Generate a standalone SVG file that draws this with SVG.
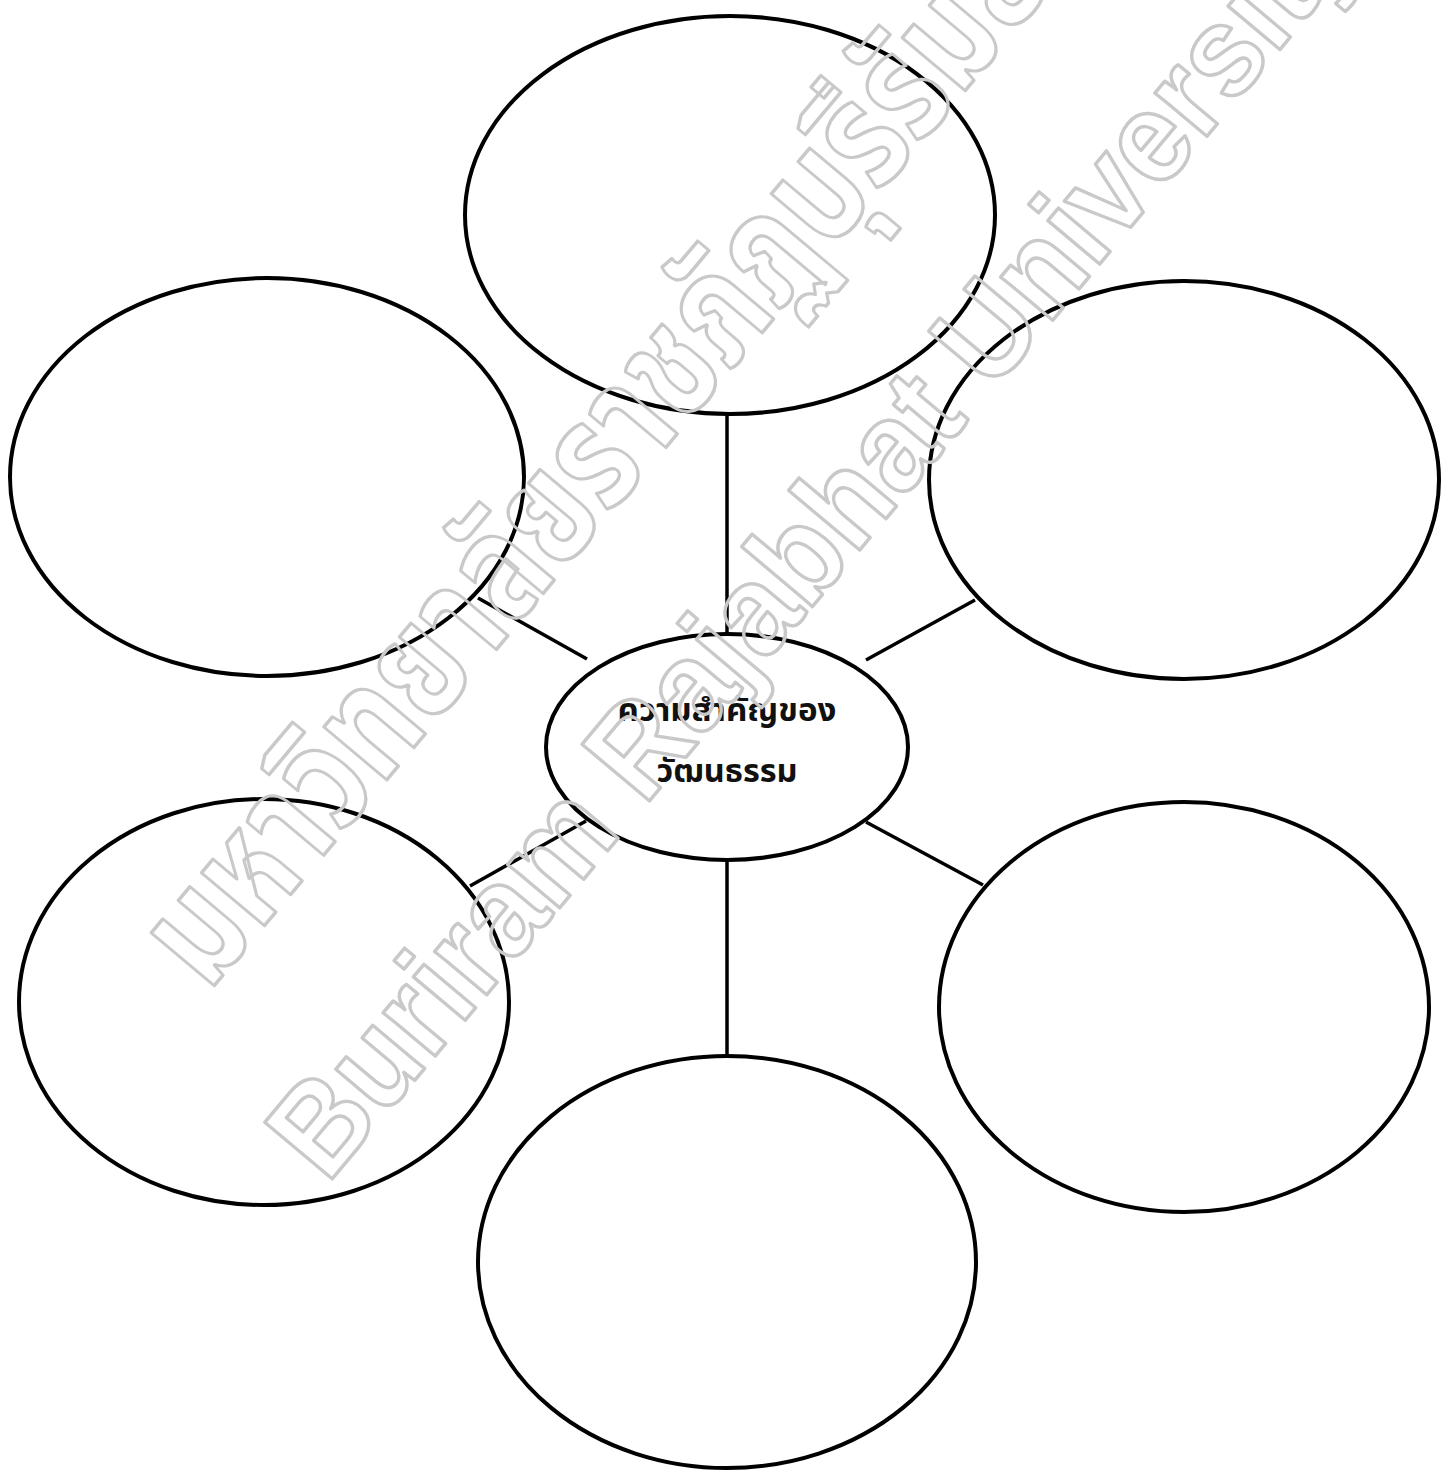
<svg xmlns="http://www.w3.org/2000/svg" width="1454" height="1473" viewBox="0 0 1454 1473">
  <style>
    .node { fill: #ffffff; stroke: #000000; stroke-width: 4; }
    .conn { stroke: #000000; stroke-width: 3.5; fill: none; }
    .label { font-family: "Noto Sans Thai", "Noto Sans", "DejaVu Sans", sans-serif; font-weight: bold; font-size: 31px; fill: #111111; text-anchor: middle; }
    .wm { fill: none; stroke: #c9c9c9; stroke-width: 3.5; stroke-linejoin: round; font-weight: bold; }
  </style>
  <rect x="0" y="0" width="1454" height="1473" fill="#ffffff"/>
  <g id="connectors">
    <line class="conn" x1="727" y1="414" x2="727" y2="637"/>
    <line class="conn" x1="478" y1="598" x2="587" y2="659"/>
    <line class="conn" x1="975" y1="600" x2="866" y2="660"/>
    <line class="conn" x1="470" y1="886" x2="586" y2="821"/>
    <line class="conn" x1="983" y1="885" x2="866" y2="822"/>
    <line class="conn" x1="727" y1="860" x2="727" y2="1058"/>
  </g>
  <g id="node-top"><ellipse class="node" cx="730" cy="215" rx="265" ry="199"/></g>
  <g id="node-upper-left"><ellipse class="node" cx="267" cy="477" rx="257" ry="199"/></g>
  <g id="node-upper-right"><ellipse class="node" cx="1184" cy="480" rx="255" ry="199"/></g>
  <g id="node-lower-left"><ellipse class="node" cx="264" cy="1002" rx="245" ry="203"/></g>
  <g id="node-lower-right"><ellipse class="node" cx="1184" cy="1007" rx="245" ry="205"/></g>
  <g id="node-bottom"><ellipse class="node" cx="727" cy="1262" rx="249" ry="206"/></g>
  <g id="node-center">
    <ellipse class="node" cx="727" cy="747" rx="181" ry="113"/>
    <text class="label" x="727" y="721" textLength="219" lengthAdjust="spacingAndGlyphs">ความสำคัญของ</text>
    <text class="label" x="727" y="782" textLength="141" lengthAdjust="spacingAndGlyphs">วัฒนธรรม</text>
  </g>
  <g id="watermark">
    <text class="wm" font-family="Noto Sans Thai, Noto Sans, DejaVu Sans, sans-serif" font-size="150" textLength="1322" lengthAdjust="spacingAndGlyphs" transform="translate(208,993) rotate(-50)">มหาวิทยาลัยราชภัฏบุรีรัมย์</text>
    <text class="wm" font-family="Liberation Sans, Arial, sans-serif" font-size="128" textLength="1614" lengthAdjust="spacingAndGlyphs" transform="translate(327,1185) rotate(-50)">Buriram Rajabhat University</text>
  </g>
</svg>
